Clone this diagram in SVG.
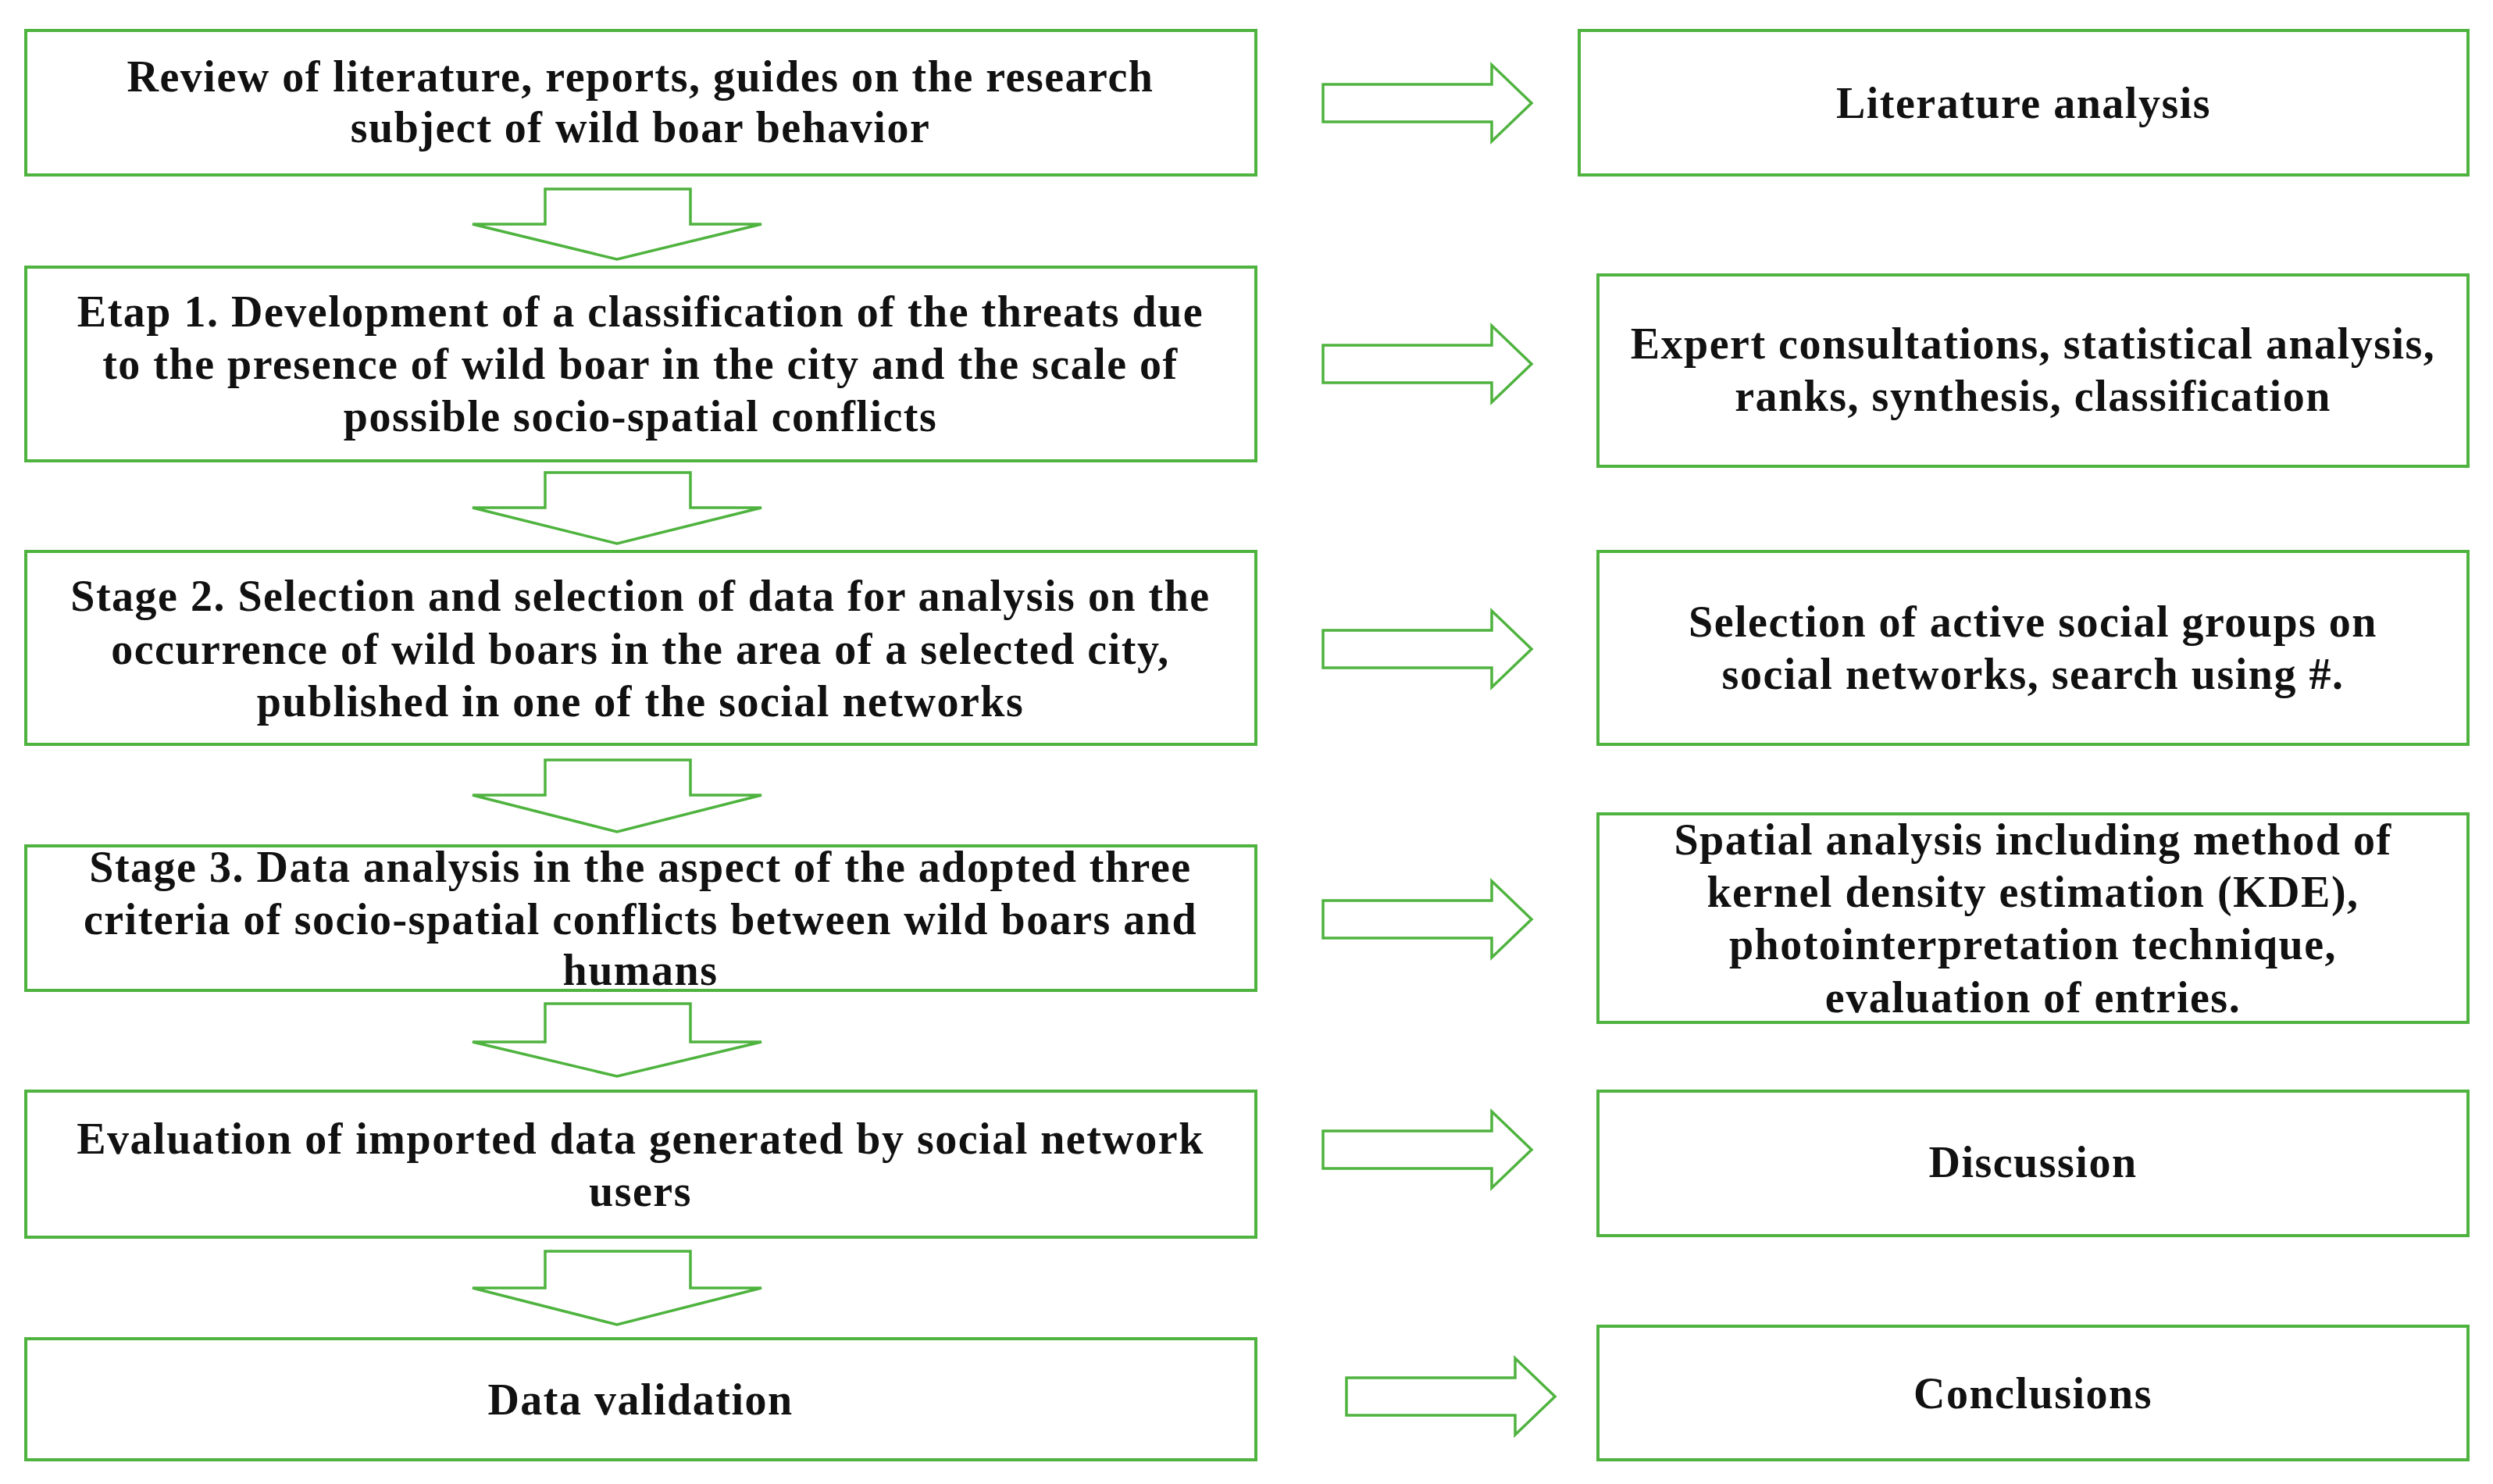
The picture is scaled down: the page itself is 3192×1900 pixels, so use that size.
<svg xmlns="http://www.w3.org/2000/svg" width="3192" height="1900" viewBox="0 0 3192 1900">
<style>
.b{fill:#fff;stroke:#4fb33f;stroke-width:4}
.a{fill:#fff;stroke:#4fb33f;stroke-width:3.5;stroke-linejoin:miter}
text{font-family:"Liberation Serif",serif;font-weight:bold;font-size:56px;letter-spacing:1.5px;text-anchor:middle;fill:#111}
</style>
<rect width="3192" height="1900" fill="#fff"/>
<g id="connectors">
<path class="a" d="M698,242H884V287H975L790,332L605,287H698Z"/>
<path class="a" d="M698,605H884V650H975L790,696L605,650H698Z"/>
<path class="a" d="M698,973H884V1018H975L790,1065L605,1018H698Z"/>
<path class="a" d="M698,1285H884V1334H975L790,1378L605,1334H698Z"/>
<path class="a" d="M698,1602H884V1649H975L790,1696L605,1649H698Z"/>
<path class="a" d="M1694,108H1910V83L1961,132L1910,181V156H1694Z"/>
<path class="a" d="M1694,442H1910V417L1961,466L1910,515V490H1694Z"/>
<path class="a" d="M1694,807H1910V782L1961,831L1910,880V855H1694Z"/>
<path class="a" d="M1694,1153H1910V1128L1961,1177L1910,1226V1201H1694Z"/>
<path class="a" d="M1694,1448H1910V1423L1961,1472L1910,1521V1496H1694Z"/>
<path class="a" d="M1724,1764H1940V1739L1991,1788L1940,1837V1812H1724Z"/>
</g>
<g id="n1"><rect class="b" x="33" y="39" width="1575" height="185"/><text x="820" y="117">Review of literature, reports, guides on the research</text><text x="820" y="182">subject of wild boar behavior</text></g>
<g id="n2"><rect class="b" x="33" y="342" width="1575" height="248"/><text x="820" y="418">Etap 1. Development of a classification of the threats due</text><text x="820" y="485">to the presence of wild boar in the city and the scale of</text><text x="820" y="552">possible socio-spatial conflicts</text></g>
<g id="n3"><rect class="b" x="33" y="706" width="1575" height="247"/><text x="820" y="782">Stage 2. Selection and selection of data for analysis on the</text><text x="820" y="850">occurrence of wild boars in the area of a selected city,</text><text x="820" y="917">published in one of the social networks</text></g>
<g id="n4"><rect class="b" x="33" y="1083" width="1575" height="185"/><text x="820" y="1129">Stage 3. Data analysis in the aspect of the adopted three</text><text x="820" y="1196">criteria of socio-spatial conflicts between wild boars and</text><text x="820" y="1261">humans</text></g>
<g id="n5"><rect class="b" x="33" y="1397" width="1575" height="187"/><text x="820" y="1477">Evaluation of imported data generated by social network</text><text x="820" y="1544">users</text></g>
<g id="n6"><rect class="b" x="33" y="1714" width="1575" height="155"/><text x="820" y="1811">Data validation</text></g>
<g id="r1"><rect class="b" x="2022" y="39" width="1138" height="185"/><text x="2591" y="151">Literature analysis</text></g>
<g id="r2"><rect class="b" x="2046" y="352" width="1114" height="245"/><text x="2603" y="459">Expert consultations, statistical analysis,</text><text x="2603" y="526">ranks, synthesis, classification</text></g>
<g id="r3"><rect class="b" x="2046" y="706" width="1114" height="247"/><text x="2603" y="815">Selection of active social groups on</text><text x="2603" y="882">social networks, search using #.</text></g>
<g id="r4"><rect class="b" x="2046" y="1042" width="1114" height="267"/><text x="2603" y="1094">Spatial analysis including method of</text><text x="2603" y="1161">kernel density estimation (KDE),</text><text x="2603" y="1228">photointerpretation technique,</text><text x="2603" y="1296">evaluation of entries.</text></g>
<g id="r5"><rect class="b" x="2046" y="1397" width="1114" height="185"/><text x="2603" y="1507">Discussion</text></g>
<g id="r6"><rect class="b" x="2046" y="1698" width="1114" height="171"/><text x="2603" y="1803">Conclusions</text></g>
</svg>
